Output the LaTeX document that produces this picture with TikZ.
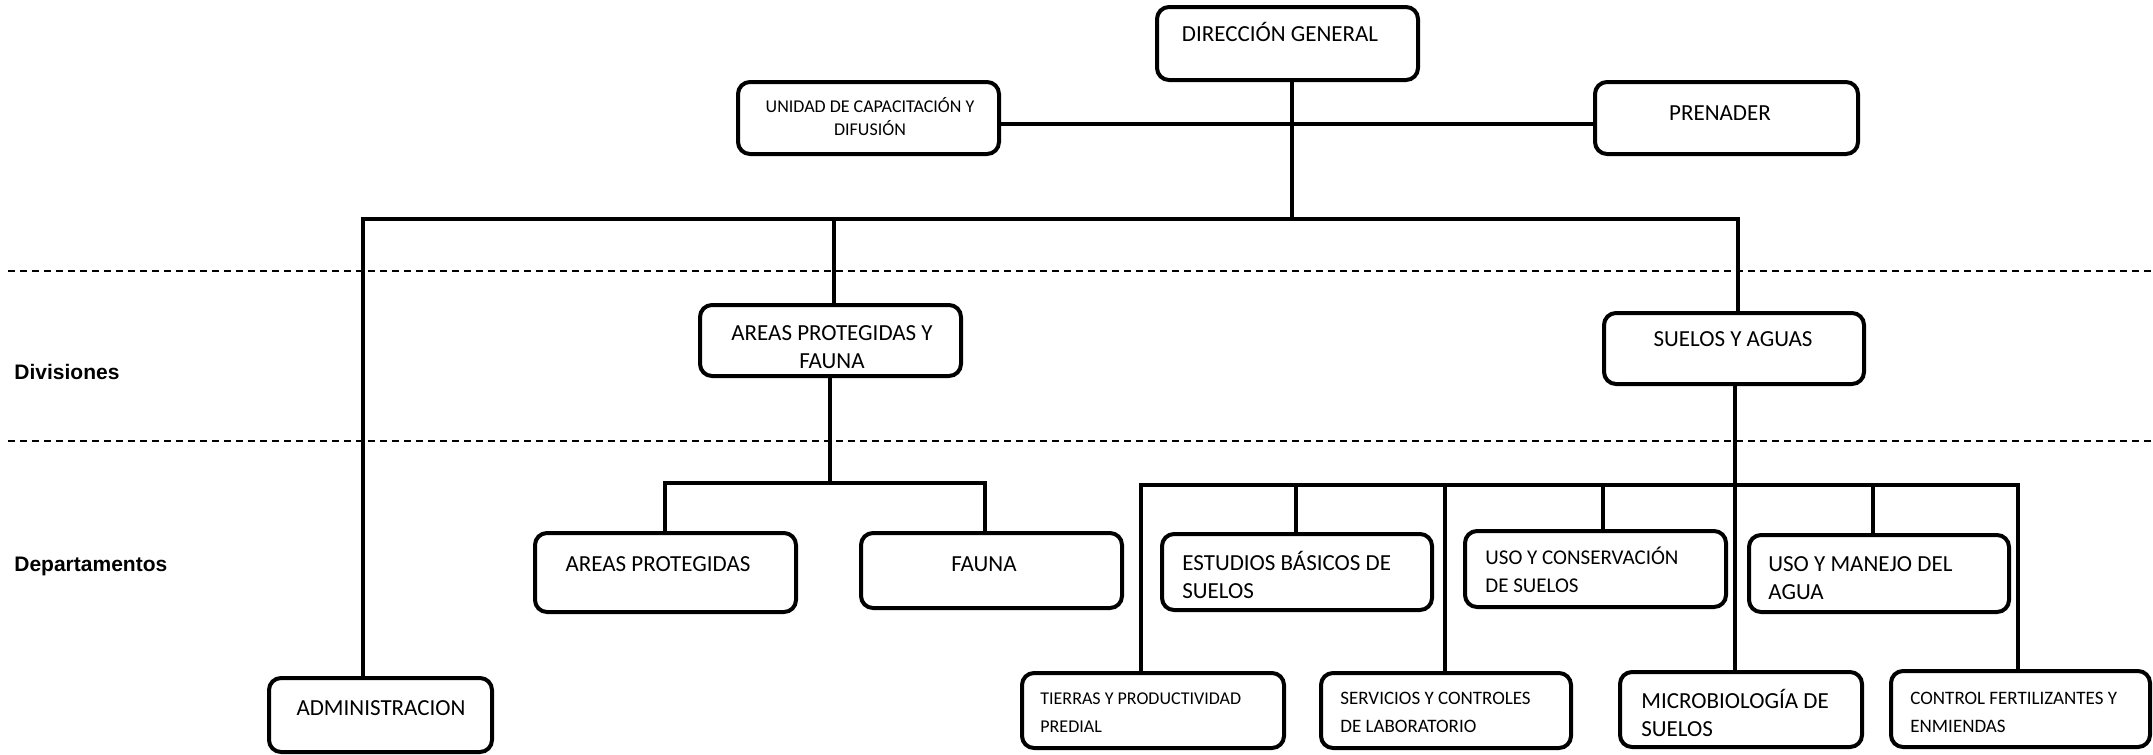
\documentclass[tikz,border=0pt]{standalone}
\usepackage{fontspec}
\setmainfont{Carlito}
\newfontfamily\arialf{Liberation Sans}
\newcommand\mybox[5]{\node[box, minimum width={(#4-#2)*0.5pt}, minimum height={(#5-#3)*0.5pt}] (#1) at ({(#2+#4)/2},{(#3+#5)/2}) {};}
\begin{document}
\begin{tikzpicture}[x=0.5pt,y=-0.5pt,
  box/.style={draw, line width=2pt, rounded corners=6pt, inner sep=0pt, outer sep=0pt},
  conn/.style={line width=1.7pt},
  sep/.style={line width=1pt, dash pattern=on 3.5pt off 2.5pt},
  tbig/.style={inner sep=0pt, font=\fontsize{11.5}{14}\selectfont},
  tuni/.style={inner sep=0pt, font=\fontsize{9}{11.5}\selectfont},
  tsmall/.style={inner sep=0pt, font=\fontsize{9}{14}\selectfont},
  tmid/.style={inner sep=0pt, font=\fontsize{9.5}{14}\selectfont},
  tcons/.style={inner sep=0pt, font=\fontsize{10.5}{14}\selectfont},
  lab/.style={inner sep=0pt, font=\arialf\bfseries\fontsize{10.5}{12}\selectfont}]
\useasboundingbox (0,0) rectangle (2153,755);
% dashed separators
\coordinate (d1a) at (8,271); \coordinate (d1b) at (2153,271);
\coordinate (d2a) at (8,441); \coordinate (d2b) at (2153,441);
\draw[sep] (d1a) -- (d1b);
\draw[sep] (d2a) -- (d2b);
\node[lab, anchor=base west] (ldiv) at (14,379) {Divisiones};
\node[lab, anchor=base west] (ldep) at (14,571) {Departamentos};
% boxes
\mybox{dg}{1157}{7}{1418}{80}
\mybox{uni}{738}{82}{999}{154}
\mybox{pre}{1595}{82}{1858}{154}
\mybox{apf}{700}{305}{961}{376}
\mybox{sya}{1604}{313}{1864}{384}
\mybox{ap}{535}{533}{796}{612}
\mybox{fau}{861}{533}{1122}{608}
\mybox{adm}{269}{678}{492}{752}
\mybox{est}{1162}{534}{1432}{610}
\mybox{usc}{1465}{531}{1726}{607}
\mybox{usm}{1749}{535}{2009}{612}
\mybox{tie}{1022}{673}{1284}{748}
\mybox{ser}{1321}{673}{1571}{748}
\mybox{mic}{1620}{672}{1862}{747}
\mybox{con}{1891}{671}{2150}{747}
% texts
\node[tbig, anchor=north] (dgt) at (1280,21) {\strut DIRECCIÓN GENERAL};
\node[tuni, anchor=north, align=center] (unit) at (870,96) {\strut UNIDAD DE CAPACITACIÓN Y\\DIFUSIÓN};
\node[tbig, anchor=north] (pret) at (1720,100) {\strut PRENADER};
\node[tbig, anchor=north, align=center] (apft) at (832,320) {\strut AREAS PROTEGIDAS Y\\FAUNA};
\node[tbig, anchor=north] (syat) at (1733,326) {\strut SUELOS Y AGUAS};
\node[tbig, anchor=north] (apt) at (658,551) {\strut AREAS PROTEGIDAS};
\node[tbig, anchor=north] (faut) at (984,551) {\strut FAUNA};
\node[tbig, anchor=north] (admt) at (381,695) {\strut ADMINISTRACION};
\node[tbig, anchor=north west, align=left] (estt) at (1182,550) {\strut ESTUDIOS BÁSICOS DE\\SUELOS};
\node[tcons, anchor=north west, align=left] (usct) at (1485,544) {\strut USO Y CONSERVACIÓN\\DE SUELOS};
\node[tbig, anchor=north west, align=left] (usmt) at (1768,551) {\strut USO Y MANEJO DEL\\AGUA};
\node[tsmall, anchor=north west, align=left] (tiet) at (1040,684) {\strut TIERRAS Y PRODUCTIVIDAD\\PREDIAL};
\node[tmid, anchor=north west, align=left] (sert) at (1340,684) {\strut SERVICIOS Y CONTROLES\\DE LABORATORIO};
\node[tbig, anchor=north west, align=left] (mict) at (1641,688) {\strut MICROBIOLOGÍA DE\\SUELOS};
\node[tmid, anchor=north west, align=left] (cont) at (1910,684) {\strut CONTROL FERTILIZANTES Y\\ENMIENDAS};
% connectors
\coordinate (hub) at (1292,124);
\coordinate (tb1) at (363,219);
\coordinate (tb2) at (1738,219);
\draw[conn] (hub |- dg.south) -- (hub |- tb1);
\draw[conn] (uni.east |- hub) -- (hub) -- (pre.west |- hub);
\draw[conn] (tb1 |- adm.north) -- (tb1) -- (tb2) -- (tb2 |- sya.north);
\coordinate (apx) at (834,219);
\draw[conn] (apx) -- (apx |- apf.north);
\coordinate (apd) at (830,483);
\coordinate (s1a) at (665,483);
\coordinate (s1b) at (985,483);
\draw[conn] (apd |- apf.south) -- (apd);
\draw[conn] (s1a |- ap.north) -- (s1a) -- (s1b) -- (s1b |- fau.north);
\coordinate (s2a) at (1141,485);
\coordinate (s2g) at (2018,485);
\draw[conn] (s2a |- tie.north) -- (s2a) -- (s2g) -- (s2g |- con.north);
\coordinate (b2) at (1296,485);
\coordinate (b3) at (1445,485);
\coordinate (b4) at (1603,485);
\coordinate (b6) at (1873,485);
\coordinate (syd) at (1735,485);
\draw[conn] (b2) -- (b2 |- est.north);
\draw[conn] (b3) -- (b3 |- ser.north);
\draw[conn] (b4) -- (b4 |- usc.north);
\draw[conn] (b6) -- (b6 |- usm.north);
\draw[conn] (syd |- sya.south) -- (syd |- mic.north);
\end{tikzpicture}
\end{document}
